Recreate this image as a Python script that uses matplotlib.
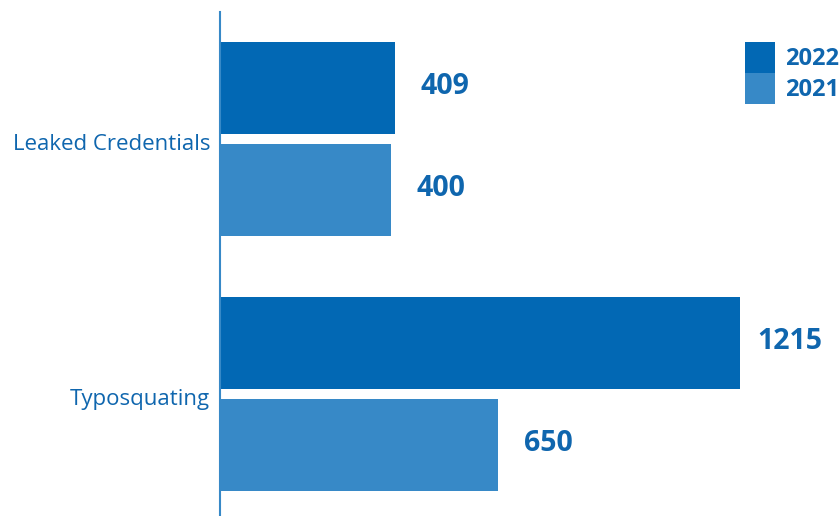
import numpy as np
import matplotlib.pyplot as plt
import matplotlib.transforms as mtransforms

# data
categories = ['Leaked Credentials', 'Typosquating']
series_names = ['2022', '2021']
values_2022 = [409, 1215]
values_2021 = [400, 650]

dark_blue = '#0268b4'
light_blue = '#3789c7'
text_blue = '#0f66ae'

plt.rcParams['font.family'] = ['Open Sans', 'DejaVu Sans']

fig = plt.figure(figsize=(8.39, 5.16), dpi=100)
ax = fig.add_axes([220 / 839, 0, 619 / 839, 504 / 516])

y = np.arange(len(categories))
bar_h = 0.361
off = 0.2

ax.barh(y - off, values_2022, height=bar_h, color=dark_blue, label=series_names[0])
ax.barh(y + off, values_2021, height=bar_h, color=light_blue, label=series_names[1])

# value labels
for ys, vals in [(y - off, values_2022), (y + off, values_2021)]:
    for yy, v in zip(ys, vals):
        ax.annotate(str(v), xy=(v, yy), xytext=(36, 1), textcoords='offset points',
                    ha='center', va='center', fontsize=20.5, fontweight='bold',
                    color=text_blue)

ax.set_xlim(0, 1446)
ax.set_ylim(1.478, -0.498)

ax.set_yticks(y)
ax.set_yticklabels(categories, fontsize=16, color=text_blue)
ax.tick_params(axis='y', length=0, pad=7)
ax.set_xticks([])
shift = mtransforms.ScaledTranslation(0, -3 / 100, fig.dpi_scale_trans)
for lab in ax.get_yticklabels():
    lab.set_transform(lab.get_transform() + shift)

for s in ['top', 'right', 'bottom']:
    ax.spines[s].set_visible(False)
ax.spines['left'].set_color(light_blue)
ax.spines['left'].set_linewidth(1.5)

leg = ax.legend(loc='upper right', bbox_to_anchor=(1.0, 1 - 30 / 504),
                frameon=False, fontsize=17, borderpad=0, borderaxespad=0,
                labelspacing=0, handlelength=1.31, handleheight=1.64,
                handletextpad=0.4)
for t in leg.get_texts():
    t.set_color(text_blue)
    t.set_fontweight('bold')

fig.savefig('out.png', dpi=100)
